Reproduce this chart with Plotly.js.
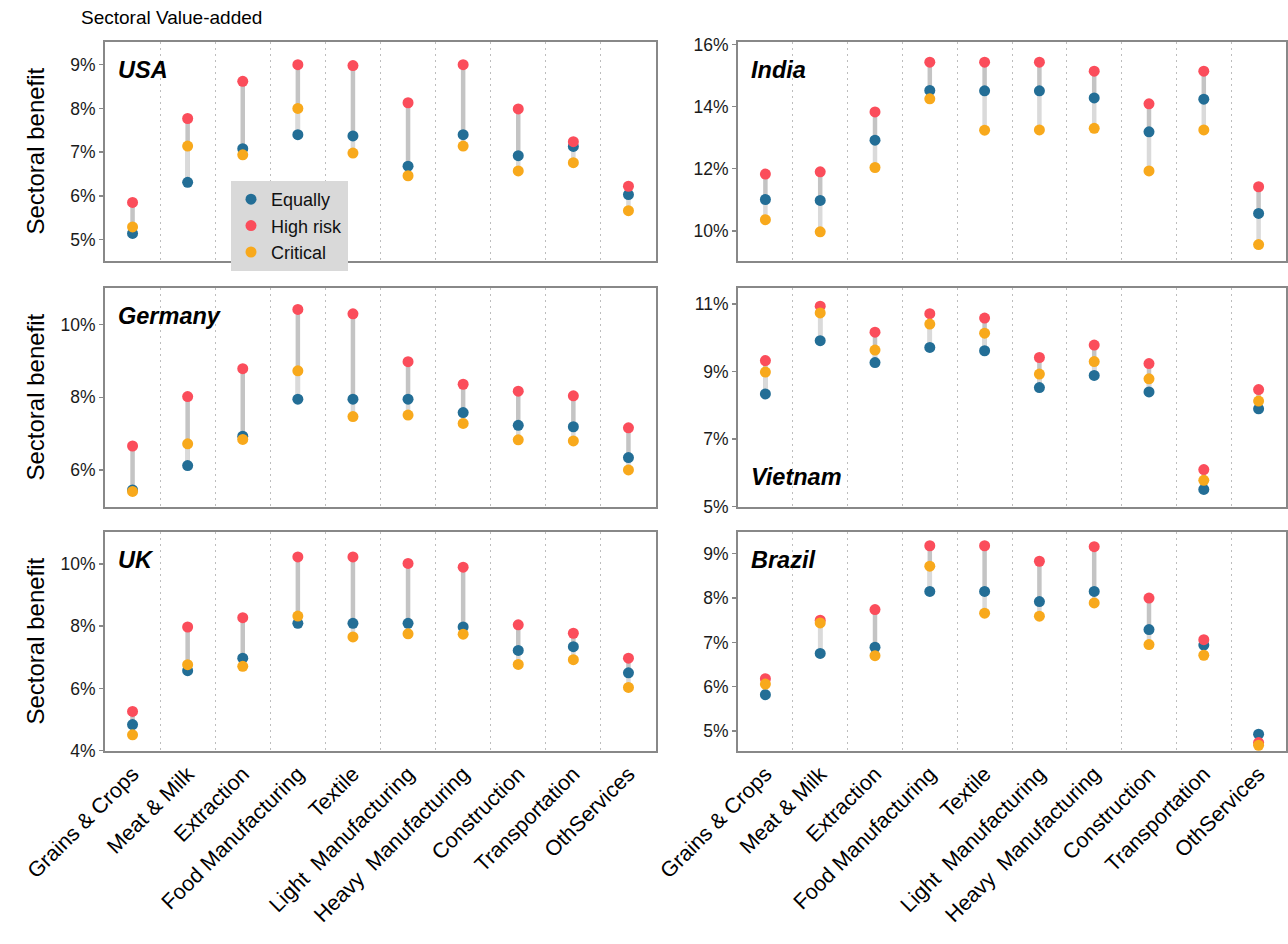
<!DOCTYPE html>
<html>
<head>
<meta charset="utf-8">
<script src="https://cdn.plot.ly/plotly-3.0.1.min.js"></script>
<style>html,body{margin:0;padding:0;background:#fff;}#chart{width:1288px;height:944px;}</style>
</head>
<body>
<div id="chart"></div>
<script>
const categories = ['Grains & Crops','Meat & Milk','Extraction','Food Manufacturing','Textile',
  'Light\u00a0 Manufacturing','Heavy\u00a0 Manufacturing','Construction','Transportation','OthServices'];

const usaEqually   = [5.14, 6.31, 7.08, 7.40, 7.37, 6.68, 7.40, 6.92, 7.13, 6.03];
const usaHighRisk  = [5.85, 7.77, 8.62, 9.00, 8.98, 8.13, 9.00, 7.99, 7.24, 6.22];
const usaCritical  = [5.29, 7.14, 6.94, 8.00, 6.98, 6.46, 7.14, 6.57, 6.76, 5.66];

const indiaEqually  = [11.01, 10.98, 12.92, 14.52, 14.51, 14.51, 14.28, 13.19, 14.24, 10.56];
const indiaHighRisk = [11.83, 11.90, 13.83, 15.43, 15.43, 15.43, 15.14, 14.09, 15.14, 11.42];
const indiaCritical = [10.36, 9.97, 12.04, 14.25, 13.24, 13.25, 13.30, 11.93, 13.25, 9.56];

const germanyEqually  = [5.45, 6.12, 6.93, 7.95, 7.95, 7.95, 7.58, 7.23, 7.19, 6.34];
const germanyHighRisk = [6.66, 8.02, 8.79, 10.42, 10.30, 8.98, 8.36, 8.17, 8.04, 7.16];
const germanyCritical = [5.41, 6.72, 6.84, 8.73, 7.47, 7.51, 7.28, 6.83, 6.80, 6.00];

const vietnamEqually  = [8.34, 9.92, 9.27, 9.72, 9.62, 8.53, 8.89, 8.40, 5.51, 7.90];
const vietnamHighRisk = [9.33, 10.94, 10.17, 10.72, 10.59, 9.42, 9.79, 9.24, 6.10, 8.47];
const vietnamCritical = [8.99, 10.74, 9.64, 10.41, 10.14, 8.93, 9.30, 8.79, 5.78, 8.13];

const ukEqually  = [4.84, 6.57, 6.97, 8.09, 8.09, 8.09, 7.97, 7.22, 7.34, 6.50];
const ukHighRisk = [5.26, 7.97, 8.27, 10.22, 10.22, 10.01, 9.89, 8.04, 7.77, 6.97];
const ukCritical = [4.51, 6.76, 6.71, 8.32, 7.65, 7.75, 7.74, 6.77, 6.92, 6.03];

const brazilEqually  = [5.82, 6.75, 6.89, 8.15, 8.15, 7.92, 8.15, 7.29, 6.94, 4.93];
const brazilHighRisk = [6.18, 7.50, 7.74, 9.18, 9.18, 8.83, 9.16, 8.00, 7.06, 4.74];
const brazilCritical = [6.06, 7.44, 6.70, 8.72, 7.66, 7.59, 7.89, 6.95, 6.71, 4.68];

const countries = ['USA','India','Germany','Vietnam','UK','Brazil'];
const seriesNames = ['Equally','High risk','Critical'];
const yTickVals = {
  USA: [5,6,7,8,9], India: [10,12,14,16], Germany: [6,8,10],
  Vietnam: [5,7,9,11], UK: [4,6,8,10], Brazil: [5,6,7,8,9]
};
const yRanges = {
  USA: [4.51, 9.52], India: [9.03, 16.08], Germany: [4.98, 11.01],
  Vietnam: [4.99, 11.48], UK: [3.99, 11.02], Brazil: [4.55, 9.49]
};
const panelData = {
  USA: [usaEqually, usaHighRisk, usaCritical],
  India: [indiaEqually, indiaHighRisk, indiaCritical],
  Germany: [germanyEqually, germanyHighRisk, germanyCritical],
  Vietnam: [vietnamEqually, vietnamHighRisk, vietnamCritical],
  UK: [ukEqually, ukHighRisk, ukCritical],
  Brazil: [brazilEqually, brazilHighRisk, brazilCritical]
};

const W = 1288, H = 944;
const colX = [[105, 656], [738, 1286]];
const rowY = [[42, 261], [288, 507], [532, 751]];
const colors = ['#236e96', '#fb4d5b', '#f8a91c'];
const FONT = 'Liberation Sans, Arial, Helvetica, sans-serif';

const traces = [];
const layout = {
  width: W, height: H,
  margin: {l: 0, r: 0, t: 0, b: 0},
  paper_bgcolor: '#ffffff', plot_bgcolor: '#ffffff',
  font: {family: FONT, color: '#1a1a1a'},
  showlegend: true,
  legend: {
    x: 231 / W, y: 1 - 181 / H, xanchor: 'left', yanchor: 'top',
    bgcolor: '#d9d9d9', font: {size: 18, family: FONT, color: '#111'},
    tracegroupgap: 0, itemwidth: 30
  },
  annotations: [], shapes: []
};

countries.forEach((c, i) => {
  const row = Math.floor(i / 2), col = i % 2;
  const n = i + 1;
  const xa = 'x' + (n === 1 ? '' : n), ya = 'y' + (n === 1 ? '' : n);
  const xk = 'xaxis' + (n === 1 ? '' : n), yk = 'yaxis' + (n === 1 ? '' : n);
  const [eq, hr, cr] = panelData[c];

  const sx1 = [], sy1 = [], sx2 = [], sy2 = [];
  categories.forEach((cat, k) => {
    sx1.push(cat, cat, null); sy1.push(eq[k], hr[k], null);
    sx2.push(cat, cat, null); sy2.push(eq[k], cr[k], null);
  });
  traces.push({x: sx1, y: sy1, xaxis: xa, yaxis: ya, mode: 'lines', type: 'scatter',
    line: {color: '#c4c4c4', width: 4.5}, showlegend: false, hoverinfo: 'skip'});
  traces.push({x: sx2, y: sy2, xaxis: xa, yaxis: ya, mode: 'lines', type: 'scatter',
    line: {color: '#dadada', width: 4.5}, showlegend: false, hoverinfo: 'skip'});

  [eq, hr, cr].forEach((vals, s) => {
    traces.push({
      x: categories, y: vals, xaxis: xa, yaxis: ya, type: 'scatter', mode: 'markers',
      name: seriesNames[s], legendgroup: seriesNames[s], showlegend: i === 0,
      marker: {color: colors[s], size: 11, line: {width: 0}}
    });
  });

  const bottom = row === 2;
  layout[xk] = {
    domain: [colX[col][0] / W, colX[col][1] / W],
    anchor: ya, type: 'category', categoryarray: categories,
    range: [-0.5, 9.5], tickson: 'boundaries',
    showgrid: true, gridcolor: '#bdbdbd', griddash: '2px,4px', gridwidth: 1,
    showline: true, mirror: true, linecolor: '#888888', linewidth: 2,
    zeroline: false, ticks: '', showticklabels: bottom,
    tickangle: -45, tickfont: {size: 21.5, family: FONT, color: '#000'},
    fixedrange: true
  };
  layout[yk] = {
    domain: [1 - rowY[row][1] / H, 1 - rowY[row][0] / H],
    anchor: xa, range: yRanges[c],
    tickvals: yTickVals[c], ticktext: yTickVals[c].map(v => v + '%'),
    showgrid: false, zeroline: false,
    showline: true, mirror: true, linecolor: '#888888', linewidth: 2,
    ticks: 'outside', ticklen: 4, tickcolor: '#888888', tickwidth: 1.5,
    tickfont: {size: 17.5, family: FONT, color: '#1a1a1a'},
    fixedrange: true
  };

  const labelLow = (c === 'Vietnam');
  layout.annotations.push({
    text: '<b><i>' + c + '</i></b>', xref: xa + ' domain', yref: ya + ' domain',
    x: 11 / 551, y: labelLow ? 30 / 219 : 1 - 28 / 219,
    xanchor: 'left', yanchor: 'middle', showarrow: false,
    font: {size: 23.5, family: FONT, color: '#000'}
  });

  if (col === 0) {
    layout.annotations.push({
      text: 'Sectoral benefit', xref: 'paper', yref: 'paper',
      x: 35 / W, y: 1 - (rowY[row][0] + rowY[row][1]) / 2 / H,
      xanchor: 'center', yanchor: 'middle', textangle: -90, showarrow: false,
      font: {size: 24, family: FONT, color: '#000'}
    });
  }
});

layout.annotations.push({
  text: 'Sectoral Value-added', xref: 'paper', yref: 'paper',
  x: 79 / W, y: 1 - 18 / H, xanchor: 'left', yanchor: 'middle', showarrow: false,
  font: {size: 19, family: FONT, color: '#000'}
});

Plotly.newPlot('chart', traces, layout, {displayModeBar: false, staticPlot: true});
</script>
</body>
</html>
